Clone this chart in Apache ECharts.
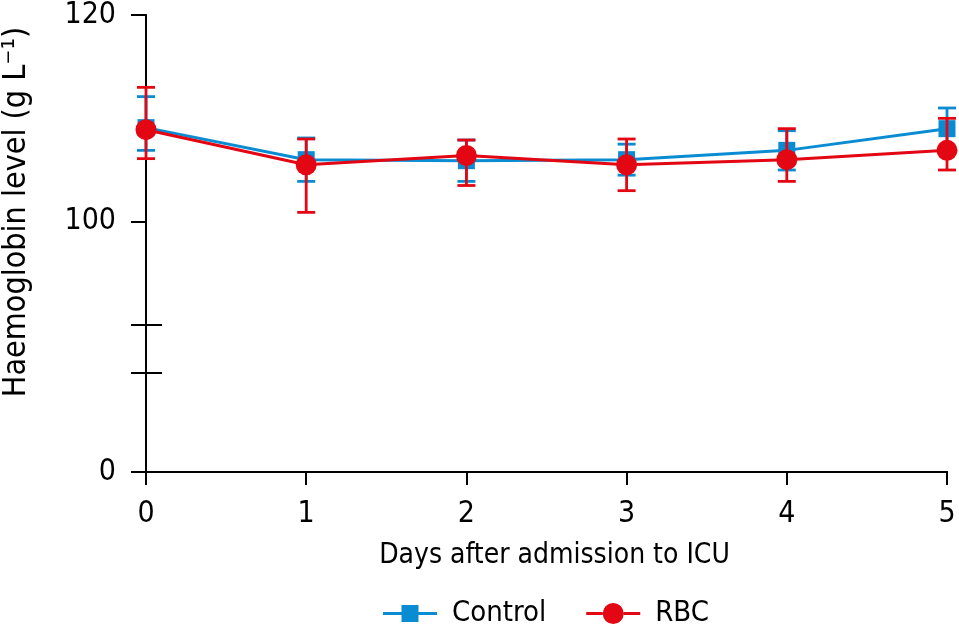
<!DOCTYPE html>
<html>
<head>
<meta charset="utf-8">
<script src="https://cdn.jsdelivr.net/npm/echarts@6/dist/echarts.min.js"></script>
<style>html,body{margin:0;padding:0;background:#fff}#c{width:959px;height:629px}</style>
</head>
<body>
<div id="c"></div>
<script>
// ---- data ----
const days = [0, 1, 2, 3, 4, 5];
const controlMean = [109.1, 106.0, 105.9, 106.0, 106.9, 109.0];
const controlLow  = [106.9, 103.9, 103.9, 104.5, 105.0, 107.0];
const controlHigh = [112.1, 108.1, 107.9, 107.5, 108.8, 111.0];
const rbcMean = [108.9, 105.5, 106.4, 105.5, 106.0, 106.9];
const rbcLow  = [106.1, 100.9, 103.5, 103.0, 103.9, 105.0];
const rbcHigh = [113.0, 108.0, 107.9, 108.0, 109.0, 110.0];
const upperTickLabels = [100, 120];
const lowerTickLabels = [0];
const upperRange = [90, 120];
const lowerRange = [0, 10];
const seriesNames = ['Control', 'RBC'];
const xTitle = 'Days after admission to ICU';
const yTitle = 'Haemoglobin level (g L\u207B\u00B9)';

const BLUE = '#0a8cd2', RED = '#e30613';
const FONT = '"DejaVu Sans Condensed", "Liberation Sans", sans-serif';
const axisLine = { show: true, lineStyle: { color: '#000', width: 2 } };

const ICON_CONTROL = 'path://M0 8.5 H18.5 V11.5 H0 Z M35.5 8.5 H54 V11.5 H35.5 Z M18.5 1.5 H35.5 V18.5 H18.5 Z';
const ICON_RBC = 'path://M0 8.5 H16.5 V11.5 H0 Z M37.5 8.5 H54 V11.5 H37.5 Z M16.5 10 A10.5 10.5 0 1 1 37.5 10 A10.5 10.5 0 1 1 16.5 10 Z';

function errSeries(name, low, high, color, z) {
  return {
    type: 'custom', name: name, xAxisIndex: 1, yAxisIndex: 1, z: z,
    data: days.map((d, i) => [d, low[i], high[i]]),
    renderItem: function (params, api) {
      const x = api.value(0);
      const p1 = api.coord([x, api.value(1)]);
      const p2 = api.coord([x, api.value(2)]);
      const hw = 9;
      const st = { stroke: color, lineWidth: 2.8 };
      return { type: 'group', children: [
        { type: 'line', shape: { x1: p1[0], y1: p1[1], x2: p2[0], y2: p2[1] }, style: st },
        { type: 'line', shape: { x1: p1[0] - hw, y1: p1[1], x2: p1[0] + hw, y2: p1[1] }, style: st },
        { type: 'line', shape: { x1: p2[0] - hw, y1: p2[1], x2: p2[0] + hw, y2: p2[1] }, style: st }
      ]};
    },
    tooltip: { show: false }
  };
}

const chart = echarts.init(document.getElementById('c'));
chart.setOption({
  animation: false,
  backgroundColor: '#fff',
  textStyle: { fontFamily: FONT, color: '#000' },
  grid: [
    { left: 146, right: 12, top: 15, height: 457 },
    { left: 146, right: 12, top: 15, height: 310 },
    { left: 146, right: 12, top: 373, height: 99 }
  ],
  xAxis: [
    { gridIndex: 0, type: 'value', position: 'top', min: 0, max: 5, axisLine: axisLine,
      axisTick: { show: false }, axisLabel: { show: false }, splitLine: { show: false } },
    { gridIndex: 1, type: 'value', min: 0, max: 5, show: false },
    { gridIndex: 2, type: 'value', position: 'bottom', min: 0, max: 5, interval: 1, axisLine: axisLine,
      axisTick: { show: true, length: 13, lineStyle: { color: '#000', width: 2 } },
      axisLabel: { color: '#000', fontSize: 30, fontFamily: FONT, margin: 27 },
      splitLine: { show: false },
      name: xTitle, nameLocation: 'middle', nameGap: 70,
      nameTextStyle: { color: '#000', fontSize: 28, fontFamily: FONT, padding: [0, 0, 0, 16] } }
  ],
  yAxis: [
    { gridIndex: 0, type: 'value', position: 'right', min: 0, max: 1, axisLine: axisLine,
      axisTick: { show: false }, axisLabel: { show: false }, splitLine: { show: false } },
    { gridIndex: 1, type: 'value', position: 'left', min: upperRange[0], max: upperRange[1], axisLine: axisLine,
      axisTick: { show: true, length: 15, customValues: [upperRange[0]].concat(upperTickLabels), lineStyle: { color: '#000', width: 2 } },
      axisLabel: { color: '#000', fontSize: 30, fontFamily: FONT, margin: 30, customValues: upperTickLabels },
      splitLine: { show: false } },
    { gridIndex: 1, type: 'value', position: 'left', offset: 0, min: upperRange[0], max: upperRange[1], axisLine: { show: false },
      axisTick: { show: true, inside: true, length: 16, customValues: [upperRange[0]], lineStyle: { color: '#000', width: 2 } },
      axisLabel: { show: false }, splitLine: { show: false } },
    { gridIndex: 2, type: 'value', position: 'left', min: lowerRange[0], max: lowerRange[1], axisLine: axisLine,
      axisTick: { show: true, length: 15, customValues: lowerTickLabels.concat([lowerRange[1]]), lineStyle: { color: '#000', width: 2 } },
      axisLabel: { color: '#000', fontSize: 30, fontFamily: FONT, margin: 30, customValues: lowerTickLabels },
      splitLine: { show: false } },
    { gridIndex: 2, type: 'value', position: 'left', offset: 0, min: lowerRange[0], max: lowerRange[1], axisLine: { show: false },
      axisTick: { show: true, inside: true, length: 16, customValues: [lowerRange[1]], lineStyle: { color: '#000', width: 2 } },
      axisLabel: { show: false }, splitLine: { show: false } }
  ],
  legend: {
    data: [{ name: seriesNames[0], icon: ICON_CONTROL }, { name: seriesNames[1], icon: ICON_RBC }],
    left: 378, top: 594, itemWidth: 54, itemHeight: 21, itemGap: 40,
    textStyle: { color: '#000', fontSize: 29, fontFamily: FONT, padding: [0, 0, 0, 10] }
  },
  graphic: [
    { type: 'text', x: 17, y: 212, rotation: Math.PI / 2,
      style: { text: yTitle, fontSize: 32, fontFamily: FONT, fill: '#000', textAlign: 'center', textVerticalAlign: 'middle' } }
  ],
  series: [
    errSeries('ControlErr', controlLow, controlHigh, BLUE, 2),
    { type: 'line', name: seriesNames[0], xAxisIndex: 1, yAxisIndex: 1, z: 3,
      data: days.map((d, i) => [d, controlMean[i]]),
      symbol: 'rect', symbolSize: 17, itemStyle: { color: BLUE },
      lineStyle: { color: BLUE, width: 3 } },
    errSeries('RBCErr', rbcLow, rbcHigh, RED, 4),
    { type: 'line', name: seriesNames[1], xAxisIndex: 1, yAxisIndex: 1, z: 5,
      data: days.map((d, i) => [d, rbcMean[i]]),
      symbol: 'circle', symbolSize: 21, itemStyle: { color: RED },
      lineStyle: { color: RED, width: 3 } }
  ]
});
</script>
</body>
</html>
